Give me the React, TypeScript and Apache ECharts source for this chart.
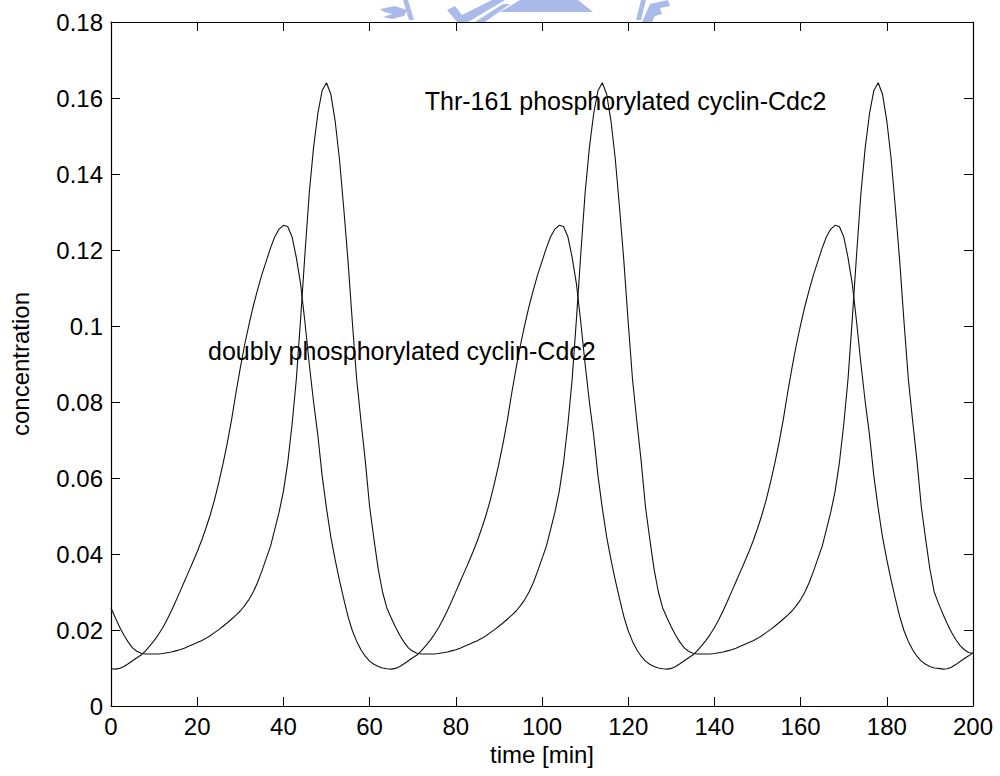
import React, { useEffect, useRef } from "react";
import * as echarts from "echarts";

// time grid (minutes), one sample per minute from 0 to 200
const T_START = 0;
const T_END = 200;
const X_TICKS = [0, 20, 40, 60, 80, 100, 120, 140, 160, 180, 200];
const Y_TICKS = [0, 0.02, 0.04, 0.06, 0.08, 0.1, 0.12, 0.14, 0.16, 0.18];

// doubly phosphorylated cyclin-Cdc2, t = 0..200 min
const doublyPhos = [
  0.0098, 0.0097, 0.0099, 0.0104, 0.0111, 0.0119, 0.0127, 0.0134, 0.0145, 0.0158,
  0.0172, 0.0188, 0.0206, 0.0227, 0.025, 0.0275, 0.0301, 0.0327, 0.0353, 0.0379,
  0.0406, 0.0435, 0.0467, 0.0502, 0.0542, 0.0588, 0.0638, 0.0693, 0.0755, 0.0825,
  0.089, 0.095, 0.1003, 0.1052, 0.1095, 0.1135, 0.117, 0.1205, 0.1235, 0.1255,
  0.1265, 0.1262, 0.1235, 0.118, 0.111, 0.101, 0.09, 0.08, 0.0712, 0.0605,
  0.052, 0.0445, 0.0385, 0.0331, 0.0282, 0.0235, 0.0198, 0.017, 0.0148, 0.0131,
  0.0118, 0.011, 0.0104, 0.01,
  0.0098, 0.0097, 0.0099, 0.0104, 0.0111, 0.0119, 0.0127, 0.0134, 0.0145, 0.0158,
  0.0172, 0.0188, 0.0206, 0.0227, 0.025, 0.0275, 0.0301, 0.0327, 0.0353, 0.0379,
  0.0406, 0.0435, 0.0467, 0.0502, 0.0542, 0.0588, 0.0638, 0.0693, 0.0755, 0.0825,
  0.089, 0.095, 0.1003, 0.1052, 0.1095, 0.1135, 0.117, 0.1205, 0.1235, 0.1255,
  0.1265, 0.1262, 0.1235, 0.118, 0.111, 0.101, 0.09, 0.08, 0.0712, 0.0605,
  0.052, 0.0445, 0.0385, 0.0331, 0.0282, 0.0235, 0.0198, 0.017, 0.0148, 0.0131,
  0.0118, 0.011, 0.0104, 0.01,
  0.0098, 0.0097, 0.0099, 0.0104, 0.0111, 0.0119, 0.0127, 0.0134, 0.0145, 0.0158,
  0.0172, 0.0188, 0.0206, 0.0227, 0.025, 0.0275, 0.0301, 0.0327, 0.0353, 0.0379,
  0.0406, 0.0435, 0.0467, 0.0502, 0.0542, 0.0588, 0.0638, 0.0693, 0.0755, 0.0825,
  0.089, 0.095, 0.1003, 0.1052, 0.1095, 0.1135, 0.117, 0.1205, 0.1235, 0.1255,
  0.1265, 0.1262, 0.1235, 0.118, 0.111, 0.101, 0.09, 0.08, 0.0712, 0.0605,
  0.052, 0.0445, 0.0385, 0.0331, 0.0282, 0.0235, 0.0198, 0.017, 0.0148, 0.0131,
  0.0118, 0.011, 0.0104, 0.01,
  0.0099, 0.0097, 0.0098, 0.0102, 0.0109, 0.0117, 0.0125, 0.0132, 0.014,
];

// Thr-161 phosphorylated cyclin-Cdc2, t = 0..200 min
const thr161Phos = [
  0.0258, 0.0232, 0.0208, 0.0186, 0.0168, 0.0153, 0.0144, 0.0139, 0.0137, 0.0137,
  0.0137, 0.0137, 0.0138, 0.014, 0.0142, 0.0145, 0.0148, 0.0152, 0.0157, 0.0162,
  0.0167, 0.0172, 0.0178, 0.0185, 0.0193, 0.0201, 0.021, 0.0219, 0.0229, 0.0239,
  0.025, 0.0264, 0.028, 0.03, 0.0325, 0.0355, 0.0388, 0.042, 0.0465, 0.051,
  0.0565, 0.064, 0.074, 0.086, 0.102, 0.119, 0.135, 0.147, 0.156, 0.162,
  0.164, 0.161, 0.154, 0.144, 0.131, 0.117, 0.101, 0.086, 0.075, 0.0645,
  0.0525, 0.044, 0.036, 0.03,
  0.0258, 0.0232, 0.0208, 0.0186, 0.0168, 0.0153, 0.0144, 0.0139, 0.0137, 0.0137,
  0.0137, 0.0137, 0.0138, 0.014, 0.0142, 0.0145, 0.0148, 0.0152, 0.0157, 0.0162,
  0.0167, 0.0172, 0.0178, 0.0185, 0.0193, 0.0201, 0.021, 0.0219, 0.0229, 0.0239,
  0.025, 0.0264, 0.028, 0.03, 0.0325, 0.0355, 0.0388, 0.042, 0.0465, 0.051,
  0.0565, 0.064, 0.074, 0.086, 0.102, 0.119, 0.135, 0.147, 0.156, 0.162,
  0.164, 0.161, 0.154, 0.144, 0.131, 0.117, 0.101, 0.086, 0.075, 0.0645,
  0.0525, 0.044, 0.036, 0.03,
  0.0258, 0.0232, 0.0208, 0.0186, 0.0168, 0.0153, 0.0144, 0.0139, 0.0137, 0.0137,
  0.0137, 0.0137, 0.0138, 0.014, 0.0142, 0.0145, 0.0148, 0.0152, 0.0157, 0.0162,
  0.0167, 0.0172, 0.0178, 0.0185, 0.0193, 0.0201, 0.021, 0.0219, 0.0229, 0.0239,
  0.025, 0.0264, 0.028, 0.03, 0.0325, 0.0355, 0.0388, 0.042, 0.0465, 0.051,
  0.0565, 0.064, 0.074, 0.086, 0.102, 0.119, 0.135, 0.147, 0.156, 0.162,
  0.164, 0.161, 0.154, 0.144, 0.131, 0.117, 0.101, 0.086, 0.075, 0.0645,
  0.0525, 0.044, 0.036, 0.03,
  0.027, 0.0243, 0.0217, 0.0194, 0.0175, 0.0159, 0.0148, 0.0141, 0.0138,
];

const X_LABEL = "time [min]";
const Y_LABEL = "concentration";
const ANNOTATIONS = [
  { text: "Thr-161 phosphorylated cyclin-Cdc2", t: 72.8, v: 0.1592 },
  { text: "doubly phosphorylated cyclin-Cdc2", t: 22.5, v: 0.0935 },
];

const FONT = "'Liberation Sans', Arial, Helvetica, sans-serif";
const WM = "rgba(150,170,228,0.8)";

export default function App() {
  const ref = useRef<HTMLDivElement>(null);
  useEffect(() => {
    if (!ref.current) return;
    const chart = echarts.init(ref.current, undefined, { renderer: "svg" });
    const toPairs = (vals: number[]) => vals.map((v, i) => [T_START + i, v]);
    const axisCommon = {
      type: "value" as const,
      axisLine: { show: true, onZero: false, lineStyle: { color: "#000", width: 1.2 } },
      axisTick: { show: true, inside: true, length: 9, lineStyle: { color: "#000", width: 1 } },
      splitLine: { show: false },
    };
    const watermark = [
      { type: "polygon", z: -1, shape: { points: [[380, 9], [395, 6], [407, 10], [404, 16], [392, 19], [383, 17], [392, 14], [384, 12]] }, style: { fill: WM } },
      { type: "polygon", z: -1, shape: { points: [[403, 0], [408, 0], [414, 20], [409, 20]] }, style: { fill: WM } },
      { type: "polygon", z: -1, shape: { points: [[447, 10], [457, 22], [468, 22], [505, 0], [492, 0], [462, 15], [455, 6]] }, style: { fill: WM } },
      { type: "polygon", z: -1, shape: { points: [[500, 12], [593, 12], [578, 0], [520, 0]] }, style: { fill: WM } },
      { type: "polygon", z: -1, shape: { points: [[475, 22], [485, 22], [510, 4], [503, 4]] }, style: { fill: WM } },
      { type: "polygon", z: -1, shape: { points: [[636, 20], [641, 0], [646, 0], [641, 20]] }, style: { fill: WM } },
      { type: "polygon", z: -1, shape: { points: [[642, 22], [650, 4], [668, 0], [670, 6], [660, 8], [662, 14], [655, 16], [652, 22]] }, style: { fill: WM } },
    ];
    chart.setOption({
      animation: false,
      backgroundColor: "#fff",
      textStyle: { fontFamily: FONT },
      grid: { left: 108, right: 27, top: 22, bottom: 70, containLabel: false },
      xAxis: [
        {
          ...axisCommon,
          position: "bottom",
          min: T_START,
          max: T_END,
          interval: X_TICKS[1] - X_TICKS[0],
          axisLabel: { show: true, color: "#000", fontSize: 24, margin: 8, fontFamily: FONT },
          name: X_LABEL,
          nameLocation: "middle",
          nameGap: 31,
          nameTextStyle: { color: "#000", fontSize: 24, fontFamily: FONT },
        },
        {
          ...axisCommon,
          position: "top",
          min: T_START,
          max: T_END,
          interval: X_TICKS[1] - X_TICKS[0],
          axisLabel: { show: false },
        },
      ],
      yAxis: [
        {
          ...axisCommon,
          position: "left",
          min: Y_TICKS[0],
          max: Y_TICKS[Y_TICKS.length - 1],
          interval: Y_TICKS[1] - Y_TICKS[0],
          axisLabel: {
            show: true,
            color: "#000",
            fontSize: 24,
            margin: 8,
            fontFamily: FONT,
            formatter: (v: number) => String(Math.round(v * 100) / 100),
          },
          name: Y_LABEL,
          nameLocation: "middle",
          nameGap: 79,
          nameTextStyle: { color: "#000", fontSize: 24, fontFamily: FONT },
        },
        {
          ...axisCommon,
          position: "right",
          min: Y_TICKS[0],
          max: Y_TICKS[Y_TICKS.length - 1],
          interval: Y_TICKS[1] - Y_TICKS[0],
          axisLabel: { show: false },
        },
      ],
      series: [
        {
          name: "doubly phosphorylated cyclin-Cdc2",
          type: "line",
          data: toPairs(doublyPhos),
          showSymbol: false,
          lineStyle: { color: "#111", width: 1.1 },
          xAxisIndex: 0,
          yAxisIndex: 0,
        },
        {
          name: "Thr-161 phosphorylated cyclin-Cdc2",
          type: "line",
          data: toPairs(thr161Phos),
          showSymbol: false,
          lineStyle: { color: "#111", width: 1.1 },
          xAxisIndex: 0,
          yAxisIndex: 0,
        },
      ],
      graphic: watermark,
    });
    // annotations placed at data coordinates
    const ann = ANNOTATIONS.map((a) => {
      const p = chart.convertToPixel({ gridIndex: 0 }, [a.t, a.v]) as number[];
      return {
        type: "text",
        x: p[0],
        y: p[1],
        z: 10,
        style: { text: a.text, fill: "#000", font: `25px ${FONT}`, textAlign: "left", textVerticalAlign: "middle" },
      };
    });
    chart.setOption({ graphic: [...watermark, ...ann] } as any);
    return () => chart.dispose();
  }, []);
  return (
    <div
      ref={ref}
      style={{ position: "fixed", left: 0, top: 0, width: 1000, height: 776, background: "#fff" }}
    />
  );
}
